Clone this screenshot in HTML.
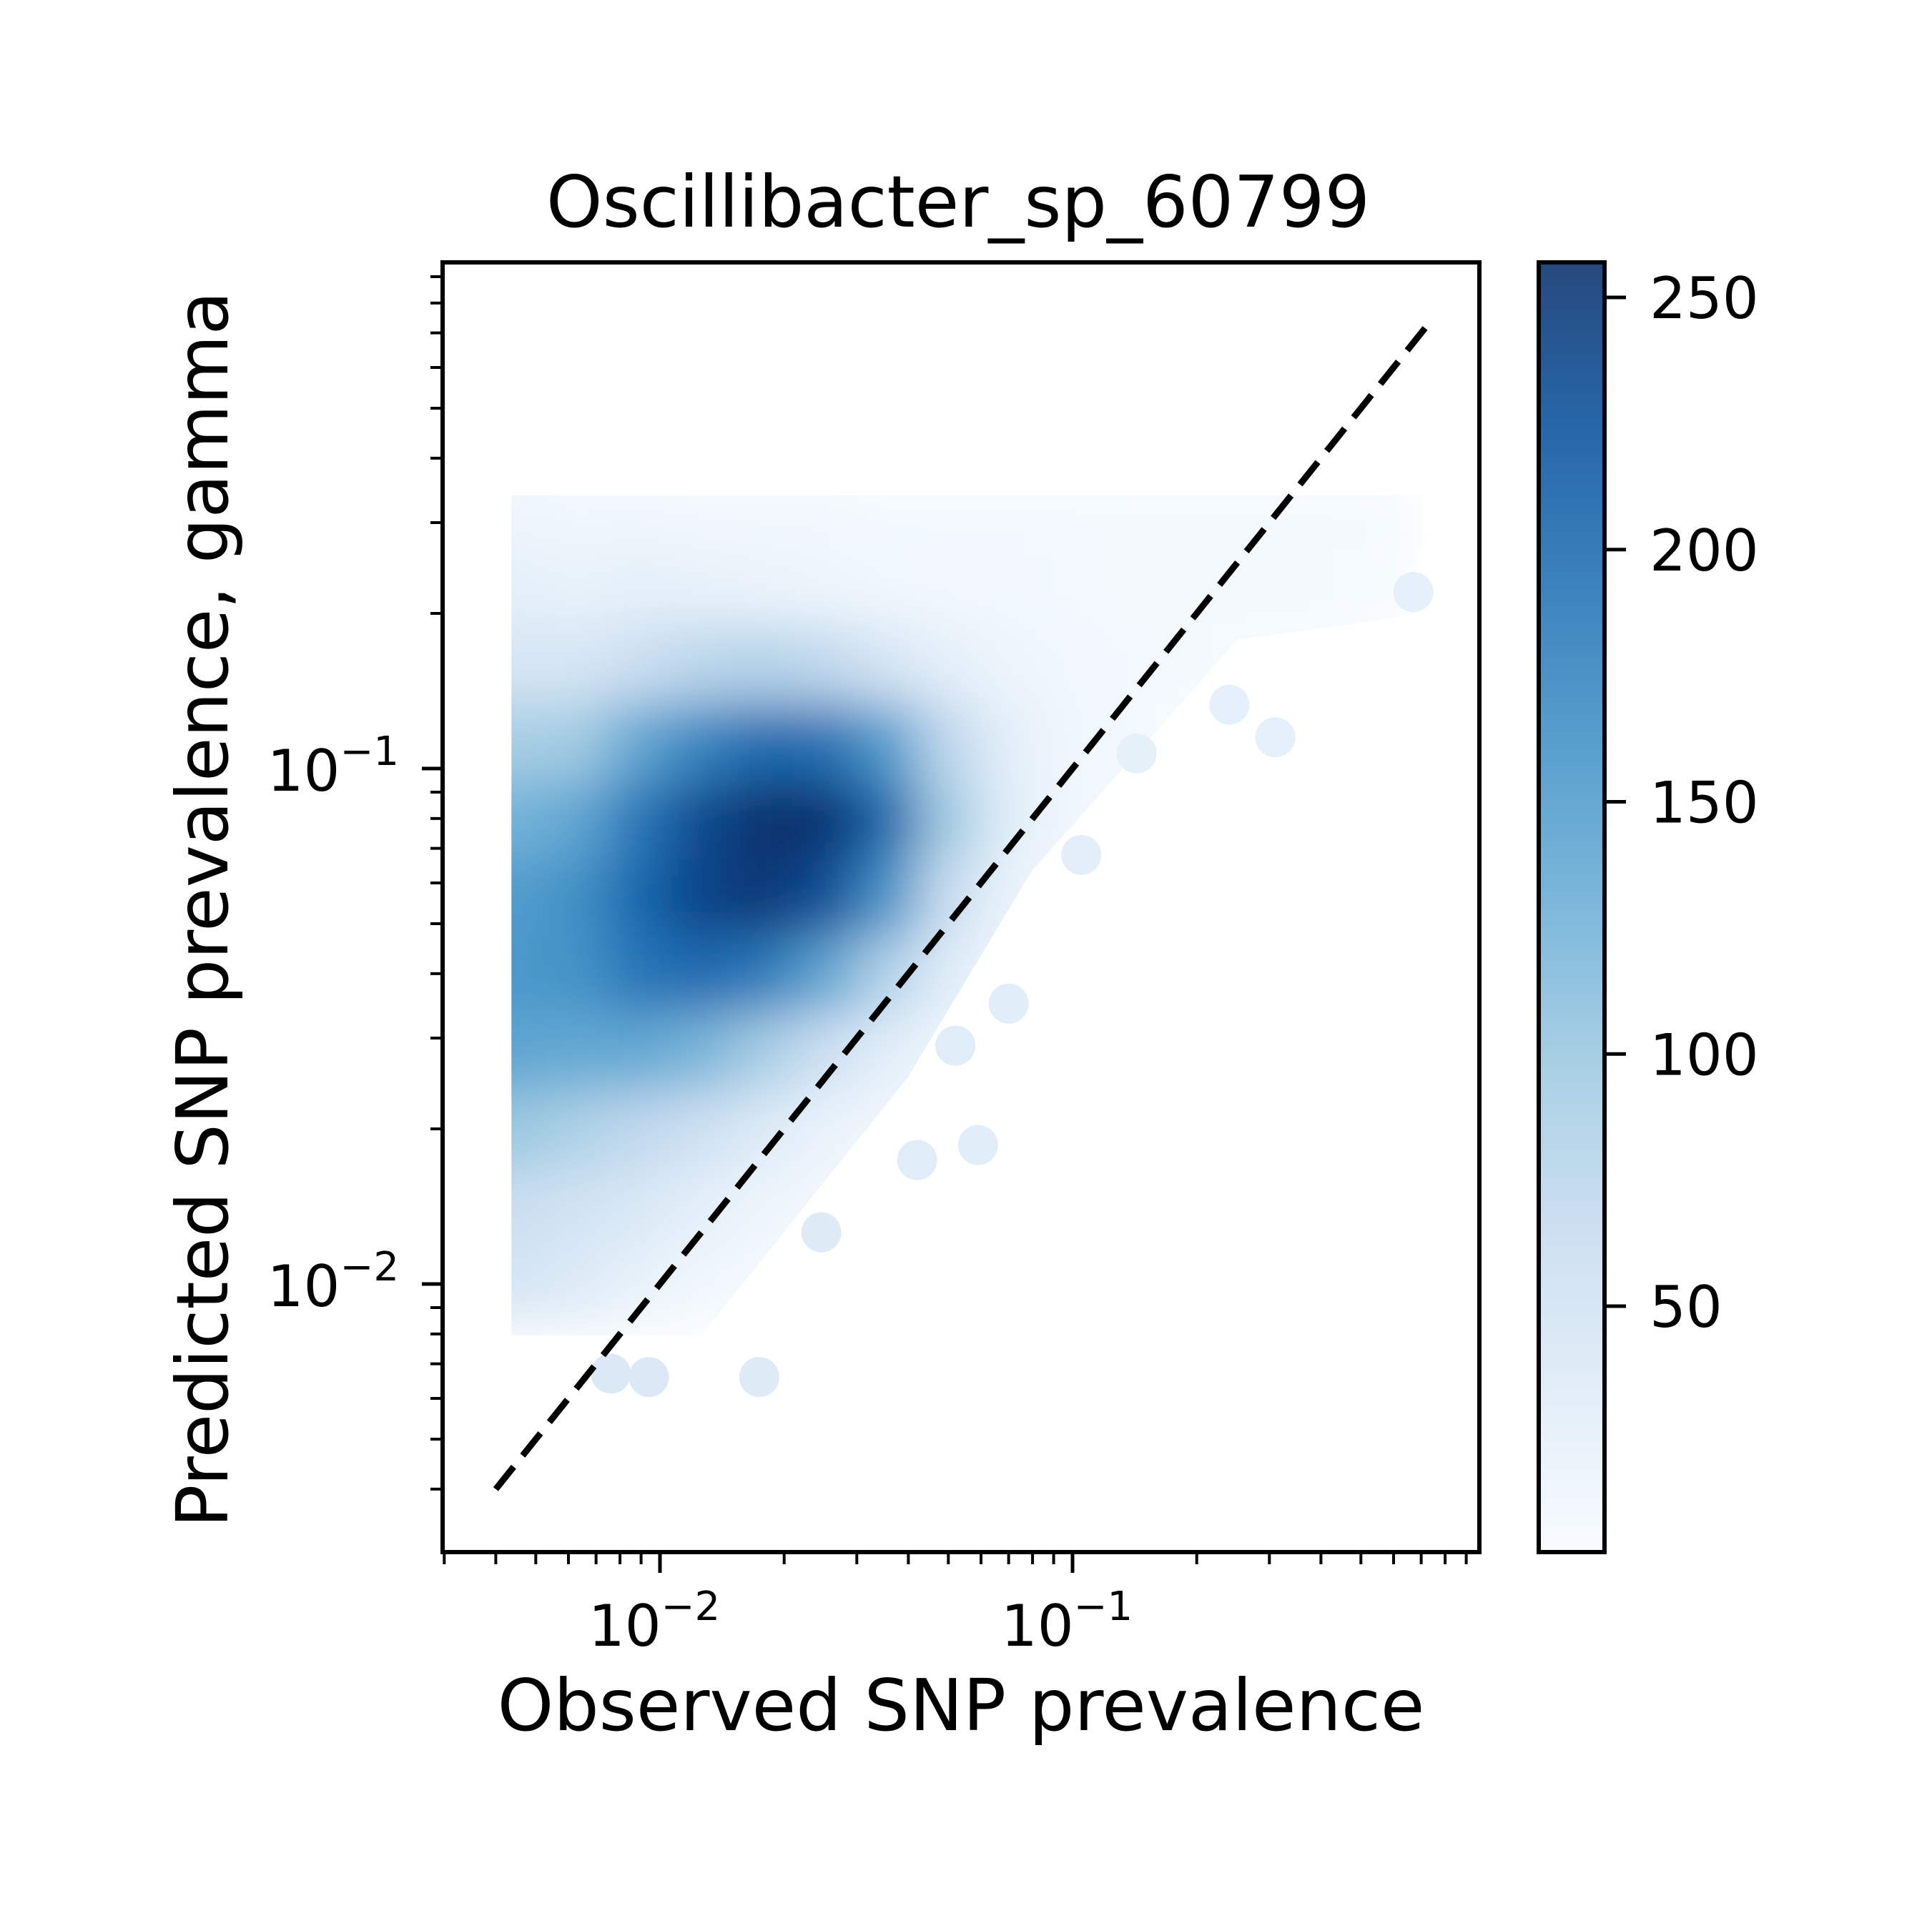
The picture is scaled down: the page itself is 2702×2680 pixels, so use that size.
<!DOCTYPE html>
<html><head><meta charset="utf-8">
<style>
html,body{margin:0;padding:0;background:#fff;}
svg{display:block;font-family:"DejaVu Sans","Liberation Sans",sans-serif;}
</style></head>
<body>
<svg id="chart" width="2702" height="2680" viewBox="0 0 2702 2680" xmlns="http://www.w3.org/2000/svg">
<defs>
<clipPath id="plotclip"><rect x="619" y="367" width="1450" height="1804"/></clipPath>
<clipPath id="cloudclip"><polygon id="cloudpoly" points="0,0"/></clipPath>
<filter id="blur" x="-20%" y="-20%" width="140%" height="140%"><feGaussianBlur stdDeviation="36"/></filter>
<linearGradient id="cbgrad" x1="0" y1="1" x2="0" y2="0">
<stop offset="0" stop-color="#f7fbff"/><stop offset="0.125" stop-color="#deebf7"/><stop offset="0.25" stop-color="#c6dbef"/><stop offset="0.375" stop-color="#9ecae1"/><stop offset="0.5" stop-color="#6baed6"/><stop offset="0.625" stop-color="#4292c6"/><stop offset="0.75" stop-color="#2171b5"/><stop offset="0.875" stop-color="#08519c"/><stop offset="1" stop-color="#08306b"/>
</linearGradient>
</defs>
<rect x="0" y="0" width="2702" height="2680" fill="#fff"/>
<g id="density" clip-path="url(#plotclip)"><g clip-path="url(#cloudclip)"><g id="densityblur" filter="url(#blur)"></g></g><g id="outliers"></g></g>
<g id="diag"></g>
<rect x="619" y="367" width="1450" height="1804" fill="none" stroke="#000" stroke-width="6"/>
<g id="axes"></g>
<rect x="2152" y="367" width="92" height="1804" fill="url(#cbgrad)" opacity="0.88"/>
<rect x="2152" y="367" width="92" height="1804" fill="none" stroke="#000" stroke-width="6"/>
<g id="cbaxis"></g>
<text x="1340" y="317" font-size="100" text-anchor="middle">Oscillibacter_sp_60799</text>
<text x="1344" y="2420" font-size="100" text-anchor="middle">Observed SNP prevalence</text>
<text transform="translate(318,1272) rotate(-90)" font-size="100" text-anchor="middle">Predicted SNP prevalence, gamma</text>
</svg>
<script>
// ---- data ----
const gridX = [-2.35,-2.2,-2.05,-1.9,-1.75,-1.6,-1.45,-1.3,-1.15,-1.0,-0.85,-0.7,-0.55,-0.4,-0.25];
const gridY = [-0.5,-0.65,-0.8,-0.95,-1.1,-1.25,-1.4,-1.55,-1.7,-1.85,-2.0];
const densRow0 = [12,10,10,8,8,8,6,6,6,6,5,5,5,5,5];
const densRow1 = [25,20,25,22,18,14,10,8,7,6,5,5,5,5,4];
const densRow2 = [45,45,60,75,80,70,45,25,14,9,6,5,4,3,0];
const densRow3 = [90,95,140,175,200,195,150,70,25,10,6,4,0,0,0];
const densRow4 = [125,140,190,235,258,255,205,95,28,10,5,0,0,0,0];
const densRow5 = [150,165,205,240,250,230,160,60,18,7,3,0,0,0,0];
const densRow6 = [155,160,190,200,185,140,80,30,10,5,0,0,0,0,0];
const densRow7 = [140,135,135,120,90,55,28,12,5,0,0,0,0,0,0];
const densRow8 = [100,85,70,55,35,18,10,5,0,0,0,0,0,0,0];
const densRow9 = [60,50,40,25,14,8,5,0,0,0,0,0,0,0,0];
const densRow10 = [45,35,20,10,5,0,0,0,0,0,0,0,0,0,0];
const densRows = [densRow0,densRow1,densRow2,densRow3,densRow4,densRow5,densRow6,densRow7,densRow8,densRow9,densRow10];
const cloudX = [-2.36,-0.15,-0.15,-0.6,-1.1,-1.4,-1.9,-2.36];
const cloudY = [-0.47,-0.47,-0.7,-0.75,-1.2,-1.6,-2.1,-2.1];
const outX = [0.67,0.31,0.24,0.143,0.105,0.059,0.0174,0.0094,0.0076,0.0246,0.042,0.070,0.052];
const outY = [0.22,0.115,0.133,0.107,0.068,0.0186,0.0066,0.0066,0.0067,0.0126,0.0174,0.035,0.029];
const outV = [8,8,8,9,12,14,18,22,22,18,16,14,16];
const diagX = [0.004,0.75];
const diagY = [0.004,0.75];
const cbTicks = [50,100,150,200,250];
const cbMin = 1, cbMax = 258;
const xMajor = [-2,-1];
const yMajor = [-2,-1];

// ---- scales ----
const X0=619, X1=2069, Y0=367, Y1=2171;
const xPx = v => 1500 + (Math.log10(v) + 1) * 577;
const xLog = l => 1500 + (l + 1) * 577;
const yPx = v => 1075 - (Math.log10(v) + 1) * 721;
const yLog = l => 1075 - (l + 1) * 721;
const cbY = v => 1827 - (v - 50) * (1827 - 416) / 200;
const NS = "http://www.w3.org/2000/svg";
const blues = ["#f7fbff","#deebf7","#c6dbef","#9ecae1","#6baed6","#4292c6","#2171b5","#08519c","#08306b"];
function hex(h){return [1,3,5].map(i=>parseInt(h.substr(i,2),16));}
function cmap(v){
  let t=Math.max(0,Math.min(1,(v-cbMin)/(cbMax-cbMin)))*8;
  let i=Math.min(7,Math.floor(t)), f=t-i, a=hex(blues[i]), b=hex(blues[i+1]);
  return "rgb("+a.map((c,k)=>Math.round(c+(b[k]-c)*f)).join(",")+")";
}
function mk(tag, attrs, parent){const e=document.createElementNS(NS,tag);for(const k in attrs)e.setAttribute(k,attrs[k]);parent.appendChild(e);return e;}

document.getElementById("cloudpoly").setAttribute("points", cloudX.map((x,i)=>xLog(x)+","+yLog(cloudY[i])).join(" "));

const dg=document.getElementById("densityblur");
const cw=(xLog(0.075)-xLog(-0.075)), ch=(yLog(-0.075)-yLog(0.075));
densRows.forEach((row,ri)=>{
  row.forEach((v,ci)=>{
    const pad = (ci===0?150:0);
    const r=mk("rect",{x:xLog(gridX[ci])-cw/2-pad,y:yLog(gridY[ri])-ch/2,width:cw+1+pad,height:ch+1,fill:v>0?cmap(v):"#ffffff"},dg);
    
    
  });
});
const og=document.getElementById("outliers");
outX.forEach((x,i)=>{
  const c=mk("circle",{cx:xPx(x),cy:yPx(outY[i]),r:28,fill:cmap(outV[i]+15)},og);
  
  
});
const dl=mk("line",{x1:xPx(diagX[0]),y1:yPx(diagY[0]),x2:xPx(diagX[1]),y2:yPx(diagY[1]),stroke:"#000","stroke-width":9,"stroke-dasharray":"40 20"},document.getElementById("diag"));



const ax=document.getElementById("axes");
for(let d=-3; d<=0; d++){
  for(let m=1;m<=9;m++){
    const l=d+Math.log10(m);
    const major=(m===1);
    const px=xLog(l);
    if(px>=X0-1 && px<=X1+1){
      const t=mk("line",{x1:px,y1:Y1,x2:px,y2:Y1+(major?29:17),stroke:"#000","stroke-width":major?5:4},ax);
      
      
    }
    const py=yLog(l);
    if(py>=Y0-1 && py<=Y1+1){
      const t=mk("line",{x1:X0,y1:py,x2:X0-(major?29:17),y2:py,stroke:"#000","stroke-width":major?5:4},ax);
      
      
    }
  }
}
xMajor.forEach(e=>{
  const t=mk("text",{x:xLog(e)-8,y:2302,"font-size":80,"text-anchor":"middle"},ax);
  t.innerHTML='10<tspan dy="-36" font-size="56">\u2212'+(-e)+'</tspan>';
  
  
});
yMajor.forEach(e=>{
  const t=mk("text",{x:558,y:yLog(e)+31,"font-size":80,"text-anchor":"end"},ax);
  t.innerHTML='10<tspan dy="-36" font-size="56">\u2212'+(-e)+'</tspan>';
  
  
});
const cb=document.getElementById("cbaxis");
cbTicks.forEach(v=>{
  const y=cbY(v);
  const t=mk("line",{x1:2244,y1:y,x2:2274,y2:y,stroke:"#000","stroke-width":5},cb);
  
  
  const l=mk("text",{x:2307,y:y+29,"font-size":80},cb);
  l.textContent=String(v);
  
  
});
</script>
</body></html>
